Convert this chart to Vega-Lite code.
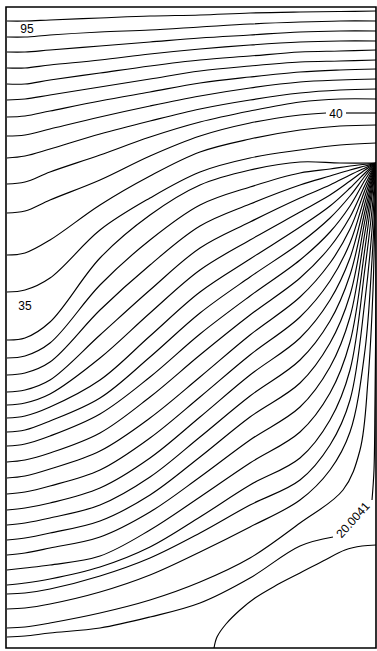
{
  "$schema": "https://vega.github.io/schema/vega-lite/v6.json",
  "width": 370,
  "height": 641,
  "autosize": {"type": "none"},
  "padding": {"left": 6, "top": 7, "right": 1, "bottom": 3},
  "background": "white",
  "config": {"view": {"stroke": "black", "strokeWidth": 1.6}},
  "datasets": {
    "contours": [
      {"s":"T1","i":0,"x":7,"y":21},{"s":"T1","i":1,"x":25,"y":21},{"s":"T1","i":2,"x":50,"y":20},{"s":"T1","i":3,"x":100,"y":18},{"s":"T1","i":4,"x":150,"y":16},{"s":"T1","i":5,"x":200,"y":15},{"s":"T1","i":6,"x":250,"y":13},{"s":"T1","i":7,"x":300,"y":12},{"s":"T1","i":8,"x":340,"y":11.5},{"s":"T1","i":9,"x":376,"y":11},
      {"s":"T2","i":0,"x":7,"y":37},{"s":"T2","i":1,"x":25,"y":37},{"s":"T2","i":2,"x":50,"y":35},{"s":"T2","i":3,"x":100,"y":32},{"s":"T2","i":4,"x":150,"y":30},{"s":"T2","i":5,"x":200,"y":27},{"s":"T2","i":6,"x":250,"y":24},{"s":"T2","i":7,"x":300,"y":22},{"s":"T2","i":8,"x":340,"y":21},{"s":"T2","i":9,"x":376,"y":21},
      {"s":"T3","i":0,"x":7,"y":52},{"s":"T3","i":1,"x":25,"y":52},{"s":"T3","i":2,"x":50,"y":50},{"s":"T3","i":3,"x":100,"y":46},{"s":"T3","i":4,"x":150,"y":42},{"s":"T3","i":5,"x":200,"y":38},{"s":"T3","i":6,"x":250,"y":35},{"s":"T3","i":7,"x":300,"y":32},{"s":"T3","i":8,"x":340,"y":31},{"s":"T3","i":9,"x":376,"y":31},
      {"s":"T4","i":0,"x":7,"y":68},{"s":"T4","i":1,"x":25,"y":68},{"s":"T4","i":2,"x":50,"y":65},{"s":"T4","i":3,"x":100,"y":60},{"s":"T4","i":4,"x":150,"y":54},{"s":"T4","i":5,"x":200,"y":49},{"s":"T4","i":6,"x":250,"y":45},{"s":"T4","i":7,"x":300,"y":42},{"s":"T4","i":8,"x":340,"y":41},{"s":"T4","i":9,"x":376,"y":41},
      {"s":"T5","i":0,"x":7,"y":84},{"s":"T5","i":1,"x":25,"y":84},{"s":"T5","i":2,"x":50,"y":80},{"s":"T5","i":3,"x":100,"y":73},{"s":"T5","i":4,"x":150,"y":66},{"s":"T5","i":5,"x":200,"y":60},{"s":"T5","i":6,"x":250,"y":56},{"s":"T5","i":7,"x":300,"y":52},{"s":"T5","i":8,"x":340,"y":51},{"s":"T5","i":9,"x":376,"y":50},
      {"s":"T6","i":0,"x":7,"y":100},{"s":"T6","i":1,"x":25,"y":99},{"s":"T6","i":2,"x":50,"y":95},{"s":"T6","i":3,"x":100,"y":87},{"s":"T6","i":4,"x":150,"y":79},{"s":"T6","i":5,"x":200,"y":71},{"s":"T6","i":6,"x":250,"y":66},{"s":"T6","i":7,"x":300,"y":62},{"s":"T6","i":8,"x":340,"y":61},{"s":"T6","i":9,"x":376,"y":60},
      {"s":"T7","i":0,"x":7,"y":117},{"s":"T7","i":1,"x":25,"y":116},{"s":"T7","i":2,"x":50,"y":111},{"s":"T7","i":3,"x":100,"y":101},{"s":"T7","i":4,"x":150,"y":92},{"s":"T7","i":5,"x":200,"y":83},{"s":"T7","i":6,"x":250,"y":77},{"s":"T7","i":7,"x":300,"y":72},{"s":"T7","i":8,"x":340,"y":70},{"s":"T7","i":9,"x":376,"y":69},
      {"s":"T8","i":0,"x":7,"y":136},{"s":"T8","i":1,"x":25,"y":135},{"s":"T8","i":2,"x":50,"y":129},{"s":"T8","i":3,"x":100,"y":117},{"s":"T8","i":4,"x":150,"y":106},{"s":"T8","i":5,"x":200,"y":96},{"s":"T8","i":6,"x":250,"y":88},{"s":"T8","i":7,"x":300,"y":82},{"s":"T8","i":8,"x":340,"y":80},{"s":"T8","i":9,"x":376,"y":79},
      {"s":"T9","i":0,"x":7,"y":158},{"s":"T9","i":1,"x":25,"y":156},{"s":"T9","i":2,"x":50,"y":149},{"s":"T9","i":3,"x":100,"y":134},{"s":"T9","i":4,"x":150,"y":121},{"s":"T9","i":5,"x":200,"y":109},{"s":"T9","i":6,"x":250,"y":100},{"s":"T9","i":7,"x":300,"y":93},{"s":"T9","i":8,"x":340,"y":90},{"s":"T9","i":9,"x":376,"y":89},
      {"s":"T10","i":0,"x":7,"y":184},{"s":"T10","i":1,"x":25,"y":182},{"s":"T10","i":2,"x":50,"y":172},{"s":"T10","i":3,"x":100,"y":155},{"s":"T10","i":4,"x":150,"y":137},{"s":"T10","i":5,"x":200,"y":122},{"s":"T10","i":6,"x":250,"y":111},{"s":"T10","i":7,"x":300,"y":102},{"s":"T10","i":8,"x":340,"y":99},{"s":"T10","i":9,"x":376,"y":99},
      {"s":"T11a","i":0,"x":7,"y":213},{"s":"T11a","i":1,"x":25,"y":211},{"s":"T11a","i":2,"x":50,"y":200},{"s":"T11a","i":3,"x":100,"y":180},{"s":"T11a","i":4,"x":150,"y":156},{"s":"T11a","i":5,"x":200,"y":136},{"s":"T11a","i":6,"x":250,"y":123},{"s":"T11a","i":7,"x":300,"y":115},{"s":"T11a","i":8,"x":326,"y":113},
      {"s":"T11b","i":0,"x":346,"y":113},{"s":"T11b","i":1,"x":376,"y":113},
      {"s":"T12","i":0,"x":7,"y":255},{"s":"T12","i":1,"x":25,"y":253},{"s":"T12","i":2,"x":50,"y":240},{"s":"T12","i":3,"x":100,"y":205},{"s":"T12","i":4,"x":150,"y":176},{"s":"T12","i":5,"x":200,"y":152},{"s":"T12","i":6,"x":250,"y":139},{"s":"T12","i":7,"x":300,"y":130},{"s":"T12","i":8,"x":340,"y":126},{"s":"T12","i":9,"x":376,"y":125},
      {"s":"T13","i":0,"x":7,"y":292},{"s":"T13","i":1,"x":25,"y":290},{"s":"T13","i":2,"x":50,"y":278},{"s":"T13","i":3,"x":100,"y":230},{"s":"T13","i":4,"x":150,"y":198},{"s":"T13","i":5,"x":200,"y":172},{"s":"T13","i":6,"x":250,"y":158},{"s":"T13","i":7,"x":300,"y":150},{"s":"T13","i":8,"x":340,"y":145},{"s":"T13","i":9,"x":376,"y":143},
      {"s":"M1","i":0,"x":7,"y":340},{"s":"M1","i":1,"x":25,"y":338},{"s":"M1","i":2,"x":50,"y":322},{"s":"M1","i":3,"x":100,"y":258},{"s":"M1","i":4,"x":150,"y":215},{"s":"M1","i":5,"x":200,"y":185},{"s":"M1","i":6,"x":250,"y":170},{"s":"M1","i":7,"x":300,"y":162},{"s":"M1","i":8,"x":340,"y":163},{"s":"M1","i":9,"x":376,"y":163},
      {"s":"M2","i":0,"x":7,"y":358},{"s":"M2","i":1,"x":25,"y":356},{"s":"M2","i":2,"x":50,"y":343},{"s":"M2","i":3,"x":100,"y":285},{"s":"M2","i":4,"x":150,"y":240},{"s":"M2","i":5,"x":200,"y":205},{"s":"M2","i":6,"x":250,"y":187},{"s":"M2","i":7,"x":300,"y":173},{"s":"M2","i":8,"x":330,"y":169},{"s":"M2","i":9,"x":350,"y":166},{"s":"M2","i":10,"x":376,"y":163},
      {"s":"M3","i":0,"x":7,"y":375},{"s":"M3","i":1,"x":25,"y":373},{"s":"M3","i":2,"x":50,"y":362},{"s":"M3","i":3,"x":100,"y":310},{"s":"M3","i":4,"x":150,"y":265},{"s":"M3","i":5,"x":200,"y":226},{"s":"M3","i":6,"x":250,"y":204},{"s":"M3","i":7,"x":300,"y":185},{"s":"M3","i":8,"x":330,"y":176},{"s":"M3","i":9,"x":350,"y":170},{"s":"M3","i":10,"x":365,"y":166},{"s":"M3","i":11,"x":376,"y":163},
      {"s":"M4","i":0,"x":7,"y":392},{"s":"M4","i":1,"x":25,"y":390},{"s":"M4","i":2,"x":50,"y":380},{"s":"M4","i":3,"x":100,"y":335},{"s":"M4","i":4,"x":150,"y":290},{"s":"M4","i":5,"x":200,"y":248},{"s":"M4","i":6,"x":250,"y":222},{"s":"M4","i":7,"x":300,"y":198},{"s":"M4","i":8,"x":330,"y":185},{"s":"M4","i":9,"x":350,"y":175},{"s":"M4","i":10,"x":365,"y":168},{"s":"M4","i":11,"x":376,"y":163},
      {"s":"M5","i":0,"x":7,"y":405},{"s":"M5","i":1,"x":25,"y":403},{"s":"M5","i":2,"x":50,"y":394},{"s":"M5","i":3,"x":100,"y":358},{"s":"M5","i":4,"x":150,"y":313},{"s":"M5","i":5,"x":200,"y":270},{"s":"M5","i":6,"x":250,"y":240},{"s":"M5","i":7,"x":300,"y":212},{"s":"M5","i":8,"x":330,"y":195},{"s":"M5","i":9,"x":350,"y":181},{"s":"M5","i":10,"x":365,"y":170},{"s":"M5","i":11,"x":376,"y":163},
      {"s":"M6","i":0,"x":7,"y":418},{"s":"M6","i":1,"x":25,"y":416},{"s":"M6","i":2,"x":50,"y":407},{"s":"M6","i":3,"x":100,"y":380},{"s":"M6","i":4,"x":150,"y":336},{"s":"M6","i":5,"x":200,"y":292},{"s":"M6","i":6,"x":250,"y":259},{"s":"M6","i":7,"x":300,"y":227},{"s":"M6","i":8,"x":330,"y":206},{"s":"M6","i":9,"x":350,"y":188},{"s":"M6","i":10,"x":365,"y":173},{"s":"M6","i":11,"x":376,"y":163},
      {"s":"M7","i":0,"x":7,"y":432},{"s":"M7","i":1,"x":25,"y":430},{"s":"M7","i":2,"x":50,"y":421},{"s":"M7","i":3,"x":100,"y":398},{"s":"M7","i":4,"x":150,"y":357},{"s":"M7","i":5,"x":200,"y":313},{"s":"M7","i":6,"x":250,"y":277},{"s":"M7","i":7,"x":300,"y":243},{"s":"M7","i":8,"x":330,"y":218},{"s":"M7","i":9,"x":350,"y":196},{"s":"M7","i":10,"x":365,"y":176},{"s":"M7","i":11,"x":376,"y":163},
      {"s":"M8","i":0,"x":7,"y":446},{"s":"M8","i":1,"x":25,"y":444},{"s":"M8","i":2,"x":50,"y":436},{"s":"M8","i":3,"x":100,"y":414},{"s":"M8","i":4,"x":150,"y":377},{"s":"M8","i":5,"x":200,"y":334},{"s":"M8","i":6,"x":250,"y":296},{"s":"M8","i":7,"x":300,"y":260},{"s":"M8","i":8,"x":330,"y":232},{"s":"M8","i":9,"x":350,"y":206},{"s":"M8","i":10,"x":365,"y":180},{"s":"M8","i":11,"x":376,"y":163},
      {"s":"M9","i":0,"x":7,"y":462},{"s":"M9","i":1,"x":25,"y":460},{"s":"M9","i":2,"x":50,"y":453},{"s":"M9","i":3,"x":100,"y":433},{"s":"M9","i":4,"x":150,"y":397},{"s":"M9","i":5,"x":200,"y":355},{"s":"M9","i":6,"x":250,"y":315},{"s":"M9","i":7,"x":300,"y":278},{"s":"M9","i":8,"x":330,"y":247},{"s":"M9","i":9,"x":350,"y":217},{"s":"M9","i":10,"x":365,"y":185},{"s":"M9","i":11,"x":376,"y":163},
      {"s":"M10","i":0,"x":7,"y":478},{"s":"M10","i":1,"x":25,"y":476},{"s":"M10","i":2,"x":50,"y":469},{"s":"M10","i":3,"x":100,"y":451},{"s":"M10","i":4,"x":150,"y":418},{"s":"M10","i":5,"x":200,"y":377},{"s":"M10","i":6,"x":250,"y":335},{"s":"M10","i":7,"x":300,"y":297},{"s":"M10","i":8,"x":330,"y":263},{"s":"M10","i":9,"x":350,"y":229},{"s":"M10","i":10,"x":365,"y":190},{"s":"M10","i":11,"x":376,"y":163},
      {"s":"M11","i":0,"x":7,"y":494},{"s":"M11","i":1,"x":25,"y":492},{"s":"M11","i":2,"x":50,"y":486},{"s":"M11","i":3,"x":100,"y":470},{"s":"M11","i":4,"x":150,"y":438},{"s":"M11","i":5,"x":200,"y":397},{"s":"M11","i":6,"x":250,"y":355},{"s":"M11","i":7,"x":300,"y":317},{"s":"M11","i":8,"x":330,"y":281},{"s":"M11","i":9,"x":350,"y":243},{"s":"M11","i":10,"x":365,"y":196},{"s":"M11","i":11,"x":376,"y":163},
      {"s":"M12","i":0,"x":7,"y":510},{"s":"M12","i":1,"x":25,"y":508},{"s":"M12","i":2,"x":50,"y":503},{"s":"M12","i":3,"x":100,"y":488},{"s":"M12","i":4,"x":150,"y":458},{"s":"M12","i":5,"x":200,"y":417},{"s":"M12","i":6,"x":250,"y":375},{"s":"M12","i":7,"x":300,"y":338},{"s":"M12","i":8,"x":330,"y":300},{"s":"M12","i":9,"x":350,"y":258},{"s":"M12","i":10,"x":365,"y":203},{"s":"M12","i":11,"x":376,"y":163},
      {"s":"M13","i":0,"x":7,"y":525},{"s":"M13","i":1,"x":25,"y":523},{"s":"M13","i":2,"x":50,"y":518},{"s":"M13","i":3,"x":100,"y":505},{"s":"M13","i":4,"x":150,"y":477},{"s":"M13","i":5,"x":200,"y":437},{"s":"M13","i":6,"x":250,"y":396},{"s":"M13","i":7,"x":300,"y":360},{"s":"M13","i":8,"x":330,"y":321},{"s":"M13","i":9,"x":350,"y":275},{"s":"M13","i":10,"x":365,"y":211},{"s":"M13","i":11,"x":376,"y":163},
      {"s":"M14","i":0,"x":7,"y":540},{"s":"M14","i":1,"x":25,"y":538},{"s":"M14","i":2,"x":50,"y":533},{"s":"M14","i":3,"x":100,"y":521},{"s":"M14","i":4,"x":150,"y":495},{"s":"M14","i":5,"x":200,"y":457},{"s":"M14","i":6,"x":250,"y":417},{"s":"M14","i":7,"x":300,"y":383},{"s":"M14","i":8,"x":330,"y":343},{"s":"M14","i":9,"x":350,"y":295},{"s":"M14","i":10,"x":365,"y":220},{"s":"M14","i":11,"x":376,"y":163},
      {"s":"M15","i":0,"x":7,"y":555},{"s":"M15","i":1,"x":25,"y":553},{"s":"M15","i":2,"x":50,"y":548},{"s":"M15","i":3,"x":100,"y":537},{"s":"M15","i":4,"x":150,"y":512},{"s":"M15","i":5,"x":200,"y":477},{"s":"M15","i":6,"x":250,"y":440},{"s":"M15","i":7,"x":300,"y":407},{"s":"M15","i":8,"x":330,"y":367},{"s":"M15","i":9,"x":350,"y":317},{"s":"M15","i":10,"x":365,"y":232},{"s":"M15","i":11,"x":376,"y":163},
      {"s":"M16","i":0,"x":7,"y":570},{"s":"M16","i":1,"x":25,"y":568},{"s":"M16","i":2,"x":50,"y":565},{"s":"M16","i":3,"x":100,"y":556},{"s":"M16","i":4,"x":150,"y":530},{"s":"M16","i":5,"x":200,"y":497},{"s":"M16","i":6,"x":250,"y":463},{"s":"M16","i":7,"x":300,"y":432},{"s":"M16","i":8,"x":330,"y":393},{"s":"M16","i":9,"x":350,"y":342},{"s":"M16","i":10,"x":365,"y":248},{"s":"M16","i":11,"x":376,"y":163},
      {"s":"M17","i":0,"x":7,"y":585},{"s":"M17","i":1,"x":25,"y":583},{"s":"M17","i":2,"x":50,"y":579},{"s":"M17","i":3,"x":100,"y":567},{"s":"M17","i":4,"x":150,"y":547},{"s":"M17","i":5,"x":200,"y":517},{"s":"M17","i":6,"x":250,"y":485},{"s":"M17","i":7,"x":300,"y":458},{"s":"M17","i":8,"x":330,"y":420},{"s":"M17","i":9,"x":350,"y":370},{"s":"M17","i":10,"x":365,"y":268},{"s":"M17","i":11,"x":372,"y":210},{"s":"M17","i":12,"x":376,"y":163},
      {"s":"M18","i":0,"x":7,"y":594},{"s":"M18","i":1,"x":25,"y":593},{"s":"M18","i":2,"x":50,"y":589},{"s":"M18","i":3,"x":100,"y":576},{"s":"M18","i":4,"x":150,"y":558},{"s":"M18","i":5,"x":200,"y":533},{"s":"M18","i":6,"x":250,"y":505},{"s":"M18","i":7,"x":300,"y":480},{"s":"M18","i":8,"x":330,"y":445},{"s":"M18","i":9,"x":350,"y":400},{"s":"M18","i":10,"x":365,"y":300},{"s":"M18","i":11,"x":372,"y":230},{"s":"M18","i":12,"x":376,"y":163},
      {"s":"M19","i":0,"x":7,"y":609},{"s":"M19","i":1,"x":25,"y":608},{"s":"M19","i":2,"x":50,"y":604},{"s":"M19","i":3,"x":100,"y":592},{"s":"M19","i":4,"x":150,"y":575},{"s":"M19","i":5,"x":200,"y":552},{"s":"M19","i":6,"x":250,"y":527},{"s":"M19","i":7,"x":300,"y":500},{"s":"M19","i":8,"x":330,"y":470},{"s":"M19","i":9,"x":350,"y":432},{"s":"M19","i":10,"x":365,"y":350},{"s":"M19","i":11,"x":372,"y":260},{"s":"M19","i":12,"x":375,"y":200},{"s":"M19","i":13,"x":376,"y":163},
      {"s":"M20","i":0,"x":7,"y":628},{"s":"M20","i":1,"x":25,"y":627},{"s":"M20","i":2,"x":50,"y":623},{"s":"M20","i":3,"x":100,"y":613},{"s":"M20","i":4,"x":150,"y":600},{"s":"M20","i":5,"x":200,"y":582},{"s":"M20","i":6,"x":250,"y":558},{"s":"M20","i":7,"x":300,"y":523},{"s":"M20","i":8,"x":343,"y":490},{"s":"M20","i":9,"x":360,"y":450},{"s":"M20","i":10,"x":368,"y":380},{"s":"M20","i":11,"x":373,"y":290},{"s":"M20","i":12,"x":375,"y":210},{"s":"M20","i":13,"x":376,"y":163},
      {"s":"M21a","i":0,"x":7,"y":637},{"s":"M21a","i":1,"x":25,"y":636},{"s":"M21a","i":2,"x":50,"y":633},{"s":"M21a","i":3,"x":100,"y":628},{"s":"M21a","i":4,"x":150,"y":617},{"s":"M21a","i":5,"x":200,"y":603},{"s":"M21a","i":6,"x":250,"y":578},{"s":"M21a","i":7,"x":300,"y":546},{"s":"M21a","i":8,"x":333,"y":537},
      {"s":"M21b","i":0,"x":372,"y":500},{"s":"M21b","i":1,"x":374,"y":470},{"s":"M21b","i":2,"x":375,"y":400},{"s":"M21b","i":3,"x":376,"y":300},{"s":"M21b","i":4,"x":376,"y":163},
      {"s":"C","i":0,"x":214,"y":648},{"s":"C","i":1,"x":217,"y":637},{"s":"C","i":2,"x":226,"y":624},{"s":"C","i":3,"x":240,"y":610},{"s":"C","i":4,"x":255,"y":598},{"s":"C","i":5,"x":275,"y":586},{"s":"C","i":6,"x":300,"y":573},{"s":"C","i":7,"x":323,"y":561},{"s":"C","i":8,"x":345,"y":550},{"s":"C","i":9,"x":362,"y":546},{"s":"C","i":10,"x":376,"y":545}
    ],
    "flatLabels": [
      {"x": 27, "y": 29, "t": "95"},
      {"x": 25, "y": 306, "t": "35"},
      {"x": 336, "y": 114, "t": "40"}
    ],
    "slantLabels": [
      {"x": 353, "y": 520, "t": "20.0041"}
    ]
  },
  "layer": [
    {
      "data": {"name": "contours"},
      "mark": {"type": "line", "stroke": "black", "strokeWidth": 1.15, "interpolate": "catmull-rom", "clip": true},
      "encoding": {
        "x": {"field": "x", "type": "quantitative", "scale": {"domain": [6, 376], "nice": false, "zero": false}, "axis": null},
        "y": {"field": "y", "type": "quantitative", "scale": {"domain": [7, 648], "nice": false, "zero": false, "reverse": true}, "axis": null},
        "detail": {"field": "s"},
        "order": {"field": "i"}
      }
    },
    {
      "data": {"name": "flatLabels"},
      "mark": {"type": "text", "font": "Liberation Sans", "fontSize": 12, "fill": "black", "align": "center", "baseline": "middle"},
      "encoding": {
        "x": {"field": "x", "type": "quantitative"},
        "y": {"field": "y", "type": "quantitative"},
        "text": {"field": "t"}
      }
    },
    {
      "data": {"name": "slantLabels"},
      "mark": {"type": "text", "font": "Liberation Sans", "fontSize": 12, "fill": "black", "align": "center", "baseline": "middle", "angle": -48},
      "encoding": {
        "x": {"field": "x", "type": "quantitative"},
        "y": {"field": "y", "type": "quantitative"},
        "text": {"field": "t"}
      }
    },
    {
      "mark": {"type": "rule", "stroke": "black", "strokeWidth": 3},
      "encoding": {"y": {"datum": 648}}
    }
  ]
}
